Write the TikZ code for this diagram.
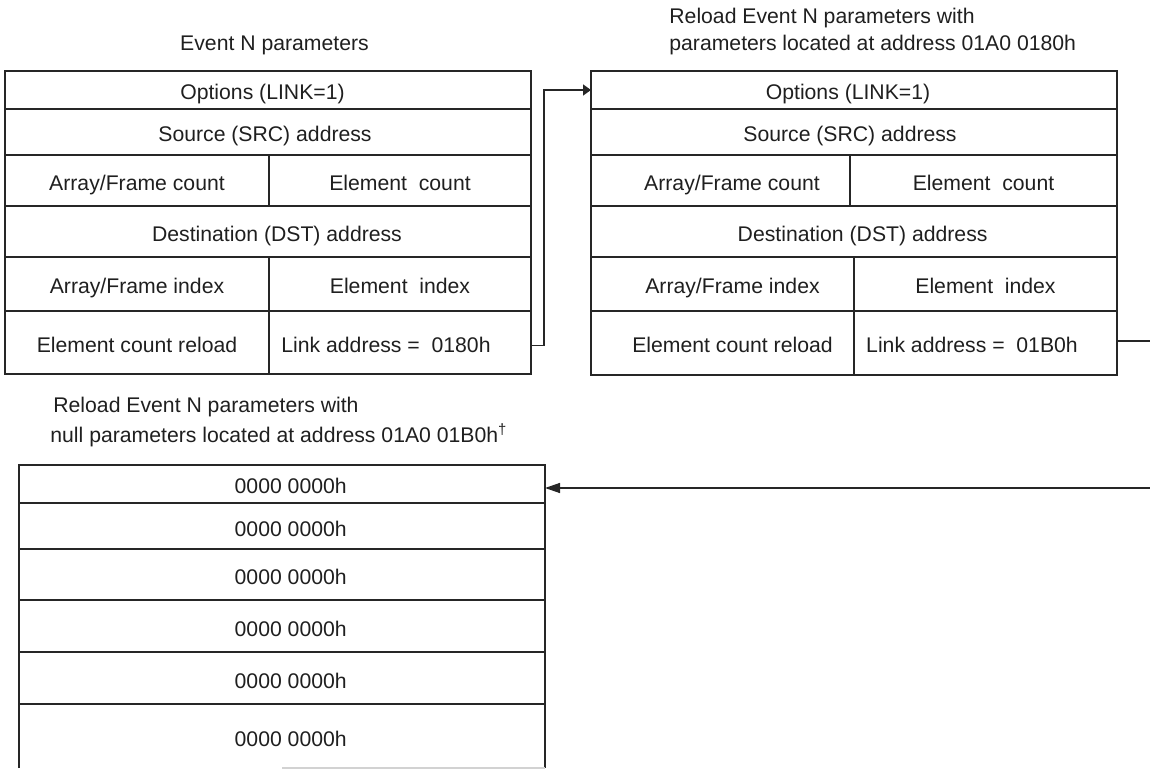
\documentclass[tikz,border=0pt]{standalone}
\usepackage{fontspec}
\setmainfont{Liberation Sans}
\usetikzlibrary{arrows.meta}
% \regcell[style]{name}{x1}{y1}{x2}{y2}{text}: a cell spanning the given corners
\newcommand\regcell[7][cell]{%
  \node[#1, minimum width={(#5-#3)*0.5pt}, minimum height={(#6-#4)*0.5pt}]
    (#2) at ({(#3+#5)/2},{(#4+#6)/2}) {#7};}
\begin{document}
\begin{tikzpicture}[x=0.5pt,y=-0.5pt,
  every node/.style={font=\fontsize{10.6}{12.7}\selectfont, text=black!88},
  bare/.style={inner sep=0pt, outer sep=0pt, rectangle, text height=11pt, text depth=1pt},
  cell/.style={bare, draw=black!85, line width=0.75pt},
  title/.style={anchor=base west, inner sep=0pt},
  frame/.style={draw=black!85, line width=0.75pt},
  link/.style={draw=black!85, line width=0.7pt},
]
\useasboundingbox (0,0) rectangle (1150,769);

% ---- titles ----
\node[anchor=base, inner sep=0pt] (tA) at (274.5,51) {Event N parameters};
\node[title] (tB1) at (669,24) {Reload Event N parameters with};
\node[title] (tB2) at (669,50.7) {parameters located at address 01A0 0180h};
\node[title] (tC1) at (53,413) {Reload Event N parameters with};
\node[title] (tC2) at (50,442.7) {null parameters located at address 01A0 01B0h\textsuperscript{†}};

% ---- Event N parameter set ----
\regcell{L1}{5}{71}{531}{109}{Options (LINK=1)\hspace*{5.5pt}}
\regcell{L2}{5}{109}{531}{155}{Source (SRC) address\hspace*{3pt}}
\regcell{L3a}{5}{155}{269}{206}{Array/Frame count}
\regcell{L3b}{269}{155}{531}{206}{Element~~count}
\regcell{L4}{5}{206}{531}{257}{\hspace*{9pt}Destination (DST) address}
\regcell{L5a}{5}{257}{269}{311}{Array/Frame index}
\regcell{L5b}{269}{257}{531}{311}{Element~~index}
\regcell{L6a}{5}{311}{269}{374}{Element count reload}
\regcell{L6b}{269}{311}{531}{374}{Link address =~~0180h\hspace*{14pt}}

% ---- reload set at 01A0 0180h ----
\regcell{R1}{591}{71}{1117}{109}{Options (LINK=1)\hspace*{6pt}}
\regcell{R2}{591}{109}{1117}{155}{Source (SRC) address\hspace*{4pt}}
\regcell{R3a}{591}{155}{850}{206}{\hspace*{11.5pt}Array/Frame count}
\regcell{R3b}{850}{155}{1117}{206}{Element~~count}
\regcell{R4}{591}{206}{1117}{257}{\hspace*{8.6pt}Destination (DST) address}
\regcell{R5a}{591}{257}{854}{311}{\hspace*{10pt}Array/Frame index}
\regcell{R5b}{854}{257}{1117}{311}{Element~~index}
\regcell{R6a}{591}{311}{854}{375}{\hspace*{10pt}Element count reload}
\regcell{R6b}{854}{311}{1117}{375}{Link address =~~01B0h\hspace*{13.5pt}}

% ---- null set at 01A0 01B0h ----
\regcell{B1}{19}{465}{545}{503}{\hspace*{8.7pt}0000 0000h}
\regcell{B2}{19}{503}{545}{549}{\hspace*{8.7pt}0000 0000h}
\regcell{B3}{19}{549}{545}{600}{\hspace*{8.7pt}0000 0000h}
\regcell{B4}{19}{600}{545}{652}{\hspace*{8.7pt}0000 0000h}
\regcell{B5}{19}{652}{545}{704}{\hspace*{8.7pt}0000 0000h}
\regcell[bare]{B6}{19}{704}{545}{768}{\hspace*{8.7pt}0000 0000h}
\draw[frame] (B6.south west) -- (B6.north west) -- (B6.north east) -- (B6.south east);
\draw[gray!35, line width=0.6pt] (B6.south) -- (B6.south east);

% ---- link connectors ----
\draw[link, -{Triangle[length=4pt,width=5.5pt]}]
  ([yshift=-1.6pt]L6b.east) -- ++(13,0) |- (R1.west);
\coordinate (edgeR) at (1150,341);
\draw[link] (R6b.east |- edgeR) -- (edgeR);
\coordinate (edgeB) at (1150,488);
\draw[link, -{Triangle[length=7.5pt,width=5pt]}] (edgeB) -- (edgeB -| B1.east);
\end{tikzpicture}
\end{document}
